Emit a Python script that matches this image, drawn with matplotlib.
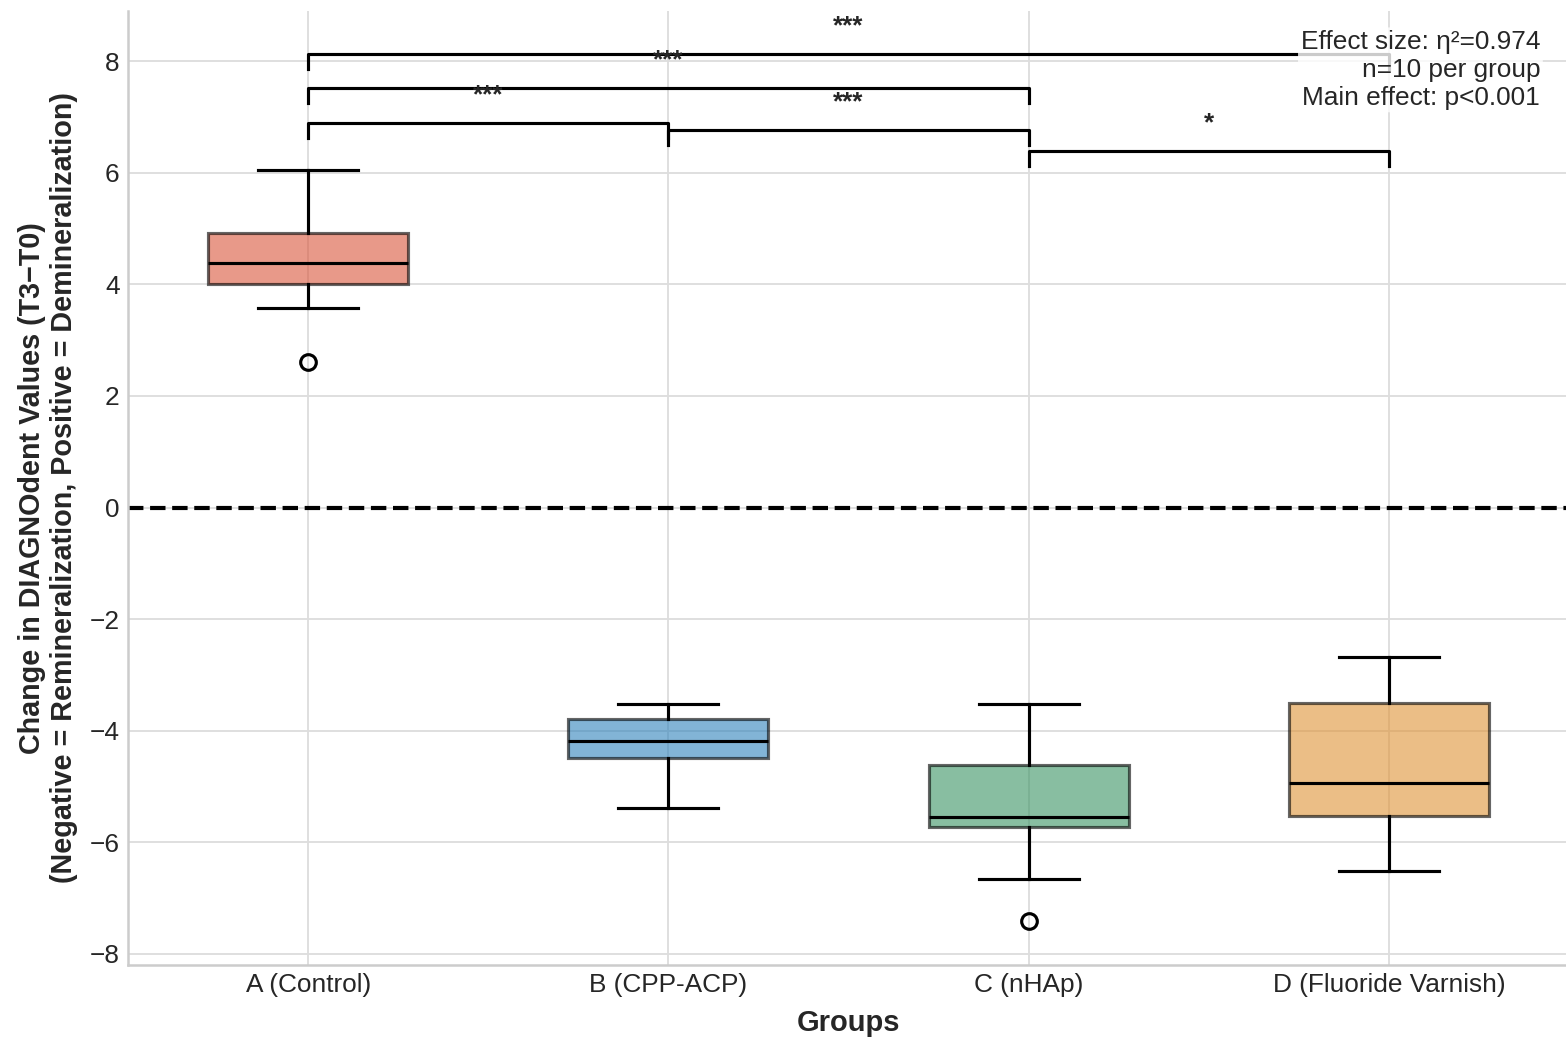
import matplotlib
matplotlib.use("Agg")
import matplotlib.pyplot as plt
import numpy as np

plt.rcParams['font.family'] = ['Liberation Sans', 'DejaVu Sans']

groups = ["A (Control)", "B (CPP-ACP)", "C (nHAp)", "D (Fluoride Varnish)"]
whislo = [3.57, -5.39, -6.66, -6.51]
q1 = [4.00, -4.49, -5.73, -5.53]
med = [4.38, -4.18, -5.55, -4.94]
q3 = [4.92, -3.79, -4.61, -3.50]
whishi = [6.05, -3.52, -3.52, -2.68]
fliers = [[2.61], [], [-7.41], []]
colors = ["#D9553A", "#2F82BB", "#399362", "#DF9335"]

# comparisons: (i, j, bracket level, label)
comparisons = [(0, 1, 6.89, "***"), (1, 2, 6.77, "***"), (2, 3, 6.39, "*"),
               (0, 2, 7.52, "***"), (0, 3, 8.13, "***")]
stats_text = "Effect size: η²=0.974\nn=10 per group\nMain effect: p<0.001"

fig = plt.figure(figsize=(1566/150, 1039/150), dpi=150)
ax = fig.add_axes([128/1566, 1-965/1039, (1569-128)/1566, (965-11)/1039])

ax.set_axisbelow(True)
ax.grid(True, color="#dddddd", linewidth=0.9)
for s in ["top", "right"]:
    ax.spines[s].set_visible(False)
for s in ["left", "bottom"]:
    ax.spines[s].set_color("#cccccc")
    ax.spines[s].set_linewidth(1.2)
ax.tick_params(length=0, labelsize=12.6, colors="#262626", pad=4)

stats = []
for i in range(len(groups)):
    stats.append(dict(med=med[i], q1=q1[i], q3=q3[i], whislo=whislo[i],
                      whishi=whishi[i], fliers=fliers[i], label=groups[i]))
bp = ax.bxp(stats, positions=np.arange(len(groups)), widths=0.555,
            patch_artist=True, manage_ticks=False,
            boxprops=dict(linewidth=1.5, edgecolor="black"),
            medianprops=dict(color="black", linewidth=1.5),
            whiskerprops=dict(color="black", linewidth=1.5),
            capprops=dict(color="black", linewidth=1.5),
            flierprops=dict(marker="o", markerfacecolor="none",
                            markeredgecolor="black", markersize=7.5,
                            markeredgewidth=1.5))
for patch, c in zip(bp["boxes"], colors):
    patch.set_facecolor(c)
    patch.set_alpha(0.6)

ax.axhline(0, color="black", linestyle="--", linewidth=2)

h = 0.27
for i, j, y, lab in comparisons:
    ax.plot([i, i, j, j], [y - h, y, y, y - h], color="black", linewidth=1.5)
    ax.text((i + j) / 2, y + 0.28, lab, ha="center", va="bottom",
            fontsize=12.6, fontweight="bold", color="#262626")

ax.text(0.98, 0.98, stats_text, transform=ax.transAxes, ha="right", va="top",
        fontsize=12.6, color="#262626", multialignment="right",
        bbox=dict(boxstyle="round,pad=0.1", facecolor="white", edgecolor="none", alpha=0.8))

ax.set_xticks(np.arange(len(groups)))
ax.set_xticklabels(groups)
ax.set_yticks(np.arange(-8, 9, 2))
ax.set_xlim(-0.5, 3.5)
ax.set_ylim(-8.2, 8.9)
ax.set_xlabel("Groups", fontsize=14, fontweight="bold", color="#262626", labelpad=5.5)
ax.set_ylabel("Change in DIAGNOdent Values (T3\u2212T0)\n(Negative = Remineralization, Positive = Demineralization)",
              fontsize=13.8, fontweight="bold", color="#262626", labelpad=5.5)

fig.savefig("out.png", dpi=150)
